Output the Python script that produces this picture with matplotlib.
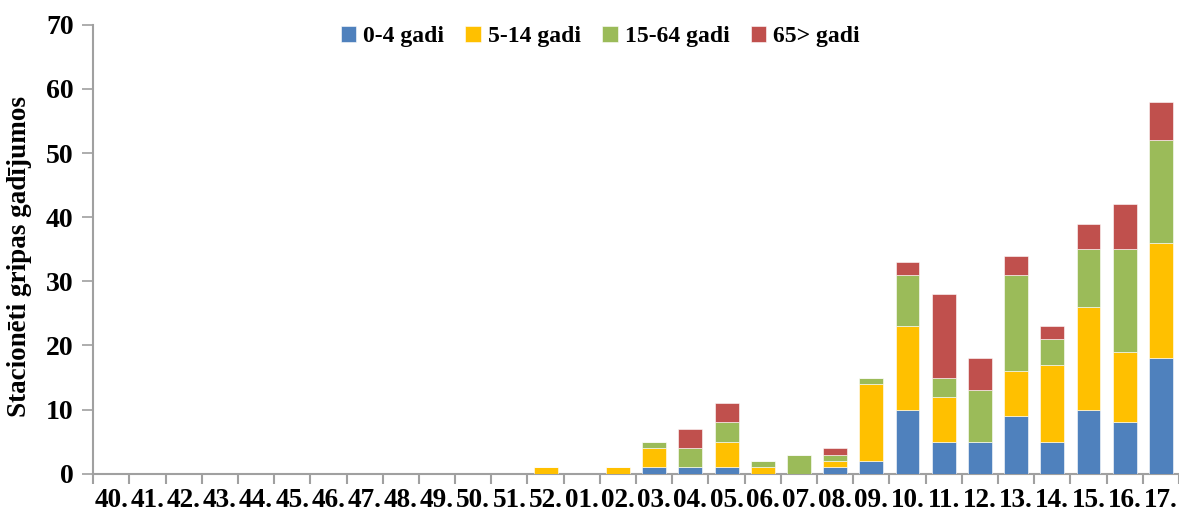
import matplotlib
matplotlib.use("Agg")
import matplotlib.pyplot as plt
import numpy as np
from matplotlib.ticker import FixedLocator

weeks = ["40.", "41.", "42.", "43.", "44.", "45.", "46.", "47.", "48.", "49.",
         "50.", "51.", "52.", "01.", "02.", "03.", "04.", "05.", "06.", "07.",
         "08.", "09.", "10.", "11.", "12.", "13.", "14.", "15.", "16.", "17."]

age_0_4 = [0, 0, 0, 0, 0, 0, 0, 0, 0, 0, 0, 0, 0, 0, 0,
           1, 1, 1, 0, 0, 1, 2, 10, 5, 5, 9, 5, 10, 8, 18]
age_5_14 = [0, 0, 0, 0, 0, 0, 0, 0, 0, 0, 0, 0, 1, 0, 1,
            3, 0, 4, 1, 0, 1, 12, 13, 7, 0, 7, 12, 16, 11, 18]
age_15_64 = [0, 0, 0, 0, 0, 0, 0, 0, 0, 0, 0, 0, 0, 0, 0,
             1, 3, 3, 1, 3, 1, 1, 8, 3, 8, 15, 4, 9, 16, 16]
age_65 = [0, 0, 0, 0, 0, 0, 0, 0, 0, 0, 0, 0, 0, 0, 0,
          0, 3, 3, 0, 0, 1, 0, 2, 13, 5, 3, 2, 4, 7, 6]

series = [
    ("0-4 gadi", age_0_4, "#4F81BD"),
    ("5-14 gadi", age_5_14, "#FFC000"),
    ("15-64 gadi", age_15_64, "#9BBB59"),
    ("65> gadi", age_65, "#C0504D"),
]

plt.rcParams["font.family"] = ["Liberation Serif", "DejaVu Serif"]
plt.rcParams["font.weight"] = "bold"

fig = plt.figure(figsize=(11.79, 5.15), dpi=100)
ax = fig.add_axes([0.079, 0.080, 0.921, 0.872])

x = np.arange(len(weeks))
bottom = np.zeros(len(weeks))
for label, vals, color in series:
    vals = np.array(vals, dtype=float)
    ax.bar(x, vals, width=0.66, bottom=bottom, color=color, label=label,
           edgecolor="white", linewidth=0.4, zorder=3)
    bottom += vals

ax.set_xlim(-0.5, len(weeks) - 0.5)
ax.set_ylim(0, 70)
ax.set_yticks(range(0, 71, 10))
ax.set_xticks(x)
ax.set_xticklabels(weeks)
ax.xaxis.set_minor_locator(FixedLocator(np.arange(-0.5, len(weeks), 1.0)))

grey = "#A0A0A0"
for side in ("top", "right"):
    ax.spines[side].set_visible(False)
for side in ("left", "bottom"):
    ax.spines[side].set_color(grey)
    ax.spines[side].set_linewidth(1.5)

ax.tick_params(axis="x", which="major", length=0, pad=10, labelsize=19.5)
ax.tick_params(axis="x", which="minor", length=7, width=1.5, color=grey)
ax.tick_params(axis="y", length=8, width=1.2, color=grey, labelsize=20, pad=6)
for lbl in ax.get_xticklabels() + ax.get_yticklabels():
    lbl.set_fontweight("bold")

ax.set_ylabel("Stacionēti gripas gadījumos", fontsize=19.5, fontweight="bold")
ax.yaxis.set_label_coords(-0.056, 0.483)

leg = ax.legend(loc="upper center", bbox_to_anchor=(0.467, 1.045), ncol=4,
                frameon=False, prop={"size": 17, "weight": "bold"},
                handlelength=0.65, handleheight=0.65, handletextpad=0.3,
                columnspacing=0.9)

fig.savefig("out.png", dpi=100)
